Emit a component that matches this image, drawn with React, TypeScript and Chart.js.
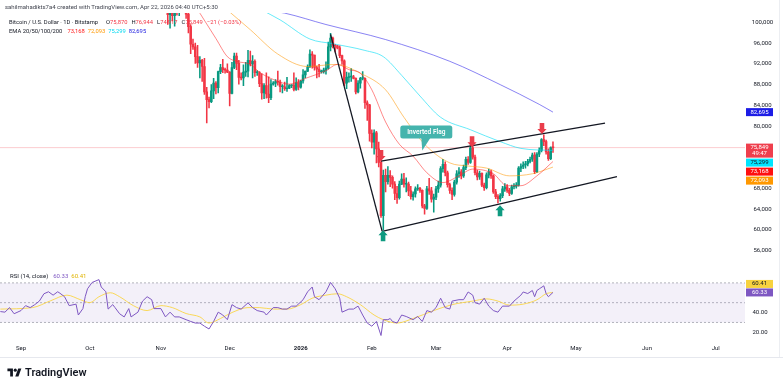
import React, { useEffect, useRef } from 'react';
import { Chart, registerables } from 'chart.js';

Chart.register(...registerables);

const FONT = 'Roboto, "Noto Sans", "DejaVu Sans", sans-serif';
Chart.defaults.font.family = FONT;
Chart.defaults.font.size = 6;
Chart.defaults.color = '#131722';

const UP = '#089981';
const DOWN = '#f23645';

// Day numbers are counted from 2025-09-01 (= day 0)
const X_MIN = -9.16;
const X_MAX = 315.74;
const CANDLE_FIRST_DAY = 61; // 2025-11-01, one daily candle per entry (values in thousands USD)

const opens = [
  // Nov
  109.6,110.1,110.6,106.5,101.5,103.9,101.3,103.4,102.3,104.7,106.0,103.0,101.6,99.2,95.8,95.3,93.4,92.2,92.7,91.5,86.6,85.1,84.7,86.8,88.3,87.4,90.5,91.3,90.9,90.8,
  // Dec
  90.4,86.3,91.3,93.5,92.1,89.4,89.3,90.4,90.6,92.7,92.0,92.5,90.3,90.3,88.2,86.4,87.8,86.2,85.5,88.1,88.3,88.6,88.5,87.6,87.6,87.2,87.3,87.8,87.9,87.1,88.4,
  // Jan
  87.5,88.7,89.9,90.6,91.4,93.9,93.7,91.3,91.0,90.5,90.5,90.8,91.2,95.3,97.0,95.6,95.5,95.1,93.6,92.6,88.3,89.4,89.5,89.5,89.2,86.6,88.3,89.2,89.2,84.5,84.1,
  // Feb
  78.6,76.9,78.7,75.6,73.0,62.7,70.5,69.3,70.5,70.1,68.8,67.0,66.2,68.8,69.8,68.8,68.8,67.5,66.4,66.9,67.9,68.0,67.6,64.6,64.1,67.9,67.5,65.9,
  // Mar
  66.3,67.9,68.6,71.8,72.6,71.0,68.7,67.6,66.8,69.2,70.8,71.2,70.4,72.0,73.6,73.0,75.8,74.0,71.0,70.2,70.9,68.6,68.1,70.6,71.2,70.4,67.3,66.4,66.0,66.6,67.9,
  // Apr
  68.3,67.6,67.0,68.3,68.4,68.6,71.9,72.2,72.5,72.7,73.2,73.6,74.4,71.2,74.6,75.3,77.4,77.0,75.0,73.7,75.87,
];
const highs = [
  110.6,111.2,110.8,107.3,104.5,104.2,104.0,103.5,105.0,106.6,107.3,105.3,104.0,99.6,96.8,96.0,95.6,93.4,92.9,93.1,87.5,85.6,88.0,89.2,88.6,90.6,91.9,92.9,91.2,92.0,
  90.5,92.3,94.1,94.1,92.7,90.3,91.8,92.3,94.6,94.5,93.6,92.8,90.7,90.5,90.1,88.2,90.3,89.5,89.0,88.6,89.0,90.6,88.9,88.0,88.5,89.4,88.0,88.0,90.3,89.3,89.0,
  88.9,90.9,90.6,91.8,94.7,94.4,93.7,91.6,91.9,90.8,91.2,92.4,96.2,97.9,97.2,95.8,95.6,95.5,93.7,92.8,90.4,90.3,91.1,89.8,89.3,88.8,89.4,90.5,89.3,84.9,84.2,
  79.3,79.3,79.0,76.9,73.4,71.5,71.7,72.2,71.4,70.4,69.3,68.4,69.4,70.8,70.9,70.0,69.2,68.4,67.3,68.3,68.7,68.2,67.7,64.9,68.4,69.9,68.2,66.9,
  68.4,69.4,72.2,73.6,73.1,71.3,69.0,68.1,69.6,71.4,72.0,71.6,72.5,74.0,74.1,76.2,76.4,74.4,71.5,71.3,71.0,69.0,71.0,71.7,71.5,70.6,67.8,66.8,67.0,68.4,68.9,
  68.7,68.0,68.6,68.9,69.1,72.2,72.7,73.1,73.2,73.6,74.0,74.8,74.9,74.9,75.8,77.6,78.3,77.3,75.6,76.0,76.944,
];
const lows = [
  109.4,109.5,105.3,99.6,98.9,100.3,99.3,101.4,101.3,104.3,102.5,100.8,98.0,94.0,94.8,92.1,91.3,89.3,88.6,86.1,80.6,83.5,84.5,85.3,86.2,86.4,90.1,90.3,90.2,90.3,
  83.9,86.2,91.1,90.9,88.1,88.9,87.8,89.6,89.5,91.6,89.3,89.6,89.8,87.6,85.2,85.3,85.4,84.5,85.1,87.9,87.6,87.9,86.6,86.4,86.9,86.7,87.2,87.4,86.8,86.9,87.0,
  87.3,88.3,89.3,90.5,91.3,91.2,90.8,89.3,89.5,90.2,90.2,90.0,91.0,94.5,95.1,94.3,94.9,93.2,91.9,87.8,87.2,88.5,88.6,89.1,86.2,86.4,87.3,88.9,83.4,81.1,77.1,
  75.8,74.6,72.9,72.1,62.4,60.0,67.3,68.8,68.3,68.0,65.8,65.1,65.9,68.7,68.2,67.3,66.6,65.9,65.7,66.3,67.6,67.2,64.2,63.0,63.9,66.8,65.3,63.4,
  65.8,67.2,68.2,71.1,70.4,68.2,67.0,65.8,66.5,68.8,70.1,69.8,70.1,71.6,72.6,72.8,73.6,70.6,69.6,69.7,68.3,67.6,67.9,70.0,69.9,67.0,66.0,65.2,65.5,66.2,67.4,
  67.2,66.6,66.8,67.9,68.0,68.4,71.2,71.8,71.9,72.3,72.9,73.2,70.8,71.0,74.1,75.0,76.2,74.6,73.4,73.5,74.917,
];
const closes = [
  110.1,110.6,106.5,101.5,103.9,101.3,103.4,102.3,104.7,106.0,103.0,101.6,99.2,95.8,95.3,93.4,92.2,92.7,91.5,86.6,85.1,84.7,86.8,88.3,87.4,90.5,91.3,90.9,90.8,90.4,
  86.3,91.3,93.5,92.1,89.4,89.3,90.4,90.6,92.7,92.0,92.5,90.3,90.3,88.2,86.4,87.8,86.2,85.5,88.1,88.3,88.6,88.5,87.6,87.6,87.2,87.3,87.8,87.9,87.1,88.4,87.5,
  88.7,89.9,90.6,91.4,93.9,93.7,91.3,91.0,90.5,90.5,90.8,91.2,95.3,97.0,95.6,95.5,95.1,93.6,92.6,88.3,89.4,89.5,89.5,89.2,86.6,88.3,89.2,89.2,84.5,84.1,78.6,
  76.9,78.7,75.6,73.0,62.7,70.5,69.3,70.5,70.1,68.8,67.0,66.2,68.8,69.8,68.8,68.8,67.5,66.4,66.9,67.9,68.0,67.6,64.6,64.1,67.9,67.5,65.9,66.3,
  67.9,68.6,71.8,72.6,71.0,68.7,67.6,66.8,69.2,70.8,71.2,70.4,72.0,73.6,73.0,75.8,74.0,71.0,70.2,70.9,68.6,68.1,70.6,71.2,70.4,67.3,66.4,66.0,66.6,67.9,68.3,
  67.6,67.0,68.3,68.4,68.6,71.9,72.2,72.5,72.7,73.2,73.6,74.4,71.2,74.6,75.3,77.4,77.0,75.0,73.7,75.87,75.849,
];

// EMA lines (read at sample days, thousands USD)
const ema20Days = [78, 85, 90, 94, 100, 104, 110, 117, 124, 133, 138, 143, 148, 153, 159, 165, 171, 177, 184, 191, 197, 206, 212, 218, 225, 232];
const ema20Vals = [101.8, 96.9, 93.4, 92.5, 91.9, 90.4, 89.0, 88.1, 89.2, 90.7, 91.9, 90.9, 90.2, 87.0, 80.8, 76.5, 74.2, 71.0, 69.1, 70.4, 71.7, 70.8, 68.5, 68.5, 70.4, 73.168];
const ema50Days = [90, 100, 112, 125, 137, 148, 159, 167, 176, 187, 195, 203, 213, 223, 232];
const ema50Vals = [102.4, 98.6, 93.9, 91.5, 91.9, 90.2, 87.0, 81.7, 76.5, 72.9, 72.3, 71.9, 70.4, 70.8, 72.093];
const ema100Days = [105, 113, 126, 136, 150, 158, 166, 174, 183, 196, 209, 218, 232];
const ema100Vals = [102.4, 100.5, 96.8, 95.9, 94.6, 93.4, 89.8, 85.8, 81.7, 79.3, 77.0, 75.7, 75.299];
const ema200Days = [104, 115, 133, 159, 187, 209, 226, 232];
const ema200Vals = [102.6, 101.8, 99.6, 96.7, 92.5, 88.0, 84.2, 82.695];

// RSI (14) and its moving average
const rsiDays = [-9,-7,-5,-3,0,2,4,6,8,10,12,14,16,17,19,21,24,25,27,28,29,31,34,35,37,38,40,41,43,45,47,48,51,53,55,57,58,61,63,65,67,69,72,74,76,78,80,82,84,86,88,90,92,94,96,99,101,103,106,107,110,112,114,116,118,120,123,125,127,128,130,133,135,137,139,140,143,145,147,149,151,153,155,157,158,160,161,162,164,166,168,171,173,175,177,179,181,183,185,187,188,191,193,195,197,198,200,202,204,206,208,210,213,215,218,219,221,223,224,225,226,228,229,230,232];
const rsiVals = [41,40.4,45,38.8,42,47,45,48,51.6,59,61,57.6,61,59.5,56,47,48.5,37.5,44,56,64,70.4,73.3,65.8,61,43.5,48,45,38.8,35.6,44,35.6,40.4,51.6,56,53,44,44,35.6,40.4,35.6,35.6,32.8,31,29.4,29.4,26.2,23.4,31,40.4,37.5,32.8,48,45,43.5,49.8,45,42,40.4,37.5,45,45,43.5,43.5,46.5,46.5,52.9,61,65.8,56,53,61,70.4,64,54.5,40.4,43.5,43.5,46.5,37.5,29.4,26.2,31,16.8,32.8,32.8,34,31,29.4,37.5,36,32.8,36,31,42,40.4,45,54.5,45,43.5,51.6,53,53,60.8,57.6,50,48.5,54.5,46.5,42,40.4,46.5,46.5,51.6,57.6,60.8,59.2,62.3,56,62.3,63.9,67,59.2,56,60.33];
const rsiMaDays = [-9,5,13,20,26,30,34,39,43,49,55,61,66,72,78,82,87,92,99,104,110,116,122,127,133,138,142,148,154,158,164,171,180,188,197,203,208,213,219,225,229,232];
const rsiMaVals = [43.5,45,52,57.6,52.9,50,56,60,56,47,42,47,45,39,35.6,29.4,34,40,45,45,43.5,43.5,48,54.5,57.6,59,56,48,37.5,32.8,29.4,34,42,48,51.6,53.8,51.6,47.5,48.5,52.9,59,60.41];
const RSI_BANDS = [70, 50, 30];

// Axis ticks
const priceTickValues = [56000, 60000, 64000, 68000, 80000, 84000, 88000, 92000, 96000, 100000];
const rsiTickValues = [20, 40];
const monthTickDays = [0, 30, 61, 91, 122, 153, 181, 212, 242, 273, 303];
const monthTickLabels = ['Sep', 'Oct', 'Nov', 'Dec', '2026', 'Feb', 'Mar', 'Apr', 'May', 'Jun', 'Jul'];

// Drawings (day, price in thousands)
const steepLineDays = [135, 157.5];
const steepLinePrices = [97.7, 59.7];
const upperLineDays = [157, 254.7];
const upperLinePrices = [73.25, 80.58];
const lowerLineDays = [157.5, 259.9];
const lowerLinePrices = [59.7, 70.24];
const markerDays = [157, 196.7, 227.2, 157.9, 208.9];
const markerPrices = [73.25, 75.9, 78.5, 59.9, 64.75];
const markerDirs = ['down', 'down', 'down', 'up', 'up'];
const calloutDay = 175;
const calloutPrice = 75.3;
const calloutText = 'Inverted Flag';
const countdownText = '49:47';

const fmt = (v: number) => Math.round(v).toLocaleString('en-US');
const last = closes.length - 1;

function linePts(days: number[], vals: number[]) {
  return days.map((d, i) => ({ x: d, y: vals[i] * 1000 }));
}

function drawArrow(ctx: CanvasRenderingContext2D, x: number, y: number, dir: string) {
  const s = dir === 'down' ? -1 : 1;
  ctx.fillStyle = dir === 'down' ? '#ea3d4b' : '#0e9a80';
  ctx.beginPath();
  ctx.moveTo(x, y);
  ctx.lineTo(x + 4.6, y + s * 5);
  ctx.lineTo(x + 2.3, y + s * 5);
  ctx.lineTo(x + 2.3, y + s * 11);
  ctx.lineTo(x - 2.3, y + s * 11);
  ctx.lineTo(x - 2.3, y + s * 5);
  ctx.lineTo(x - 4.6, y + s * 5);
  ctx.closePath();
  ctx.fill();
}

type Box = { y: number; lines: string[]; bg: string; fg: string; h: number };

function drawBoxes(ctx: CanvasRenderingContext2D, boxes: Box[], left: number, width: number) {
  ctx.save();
  ctx.font = `6px ${FONT}`;
  ctx.textAlign = 'center';
  ctx.textBaseline = 'middle';
  boxes.forEach((b) => {
    ctx.fillStyle = b.bg;
    ctx.fillRect(left, b.y, width, b.h);
    ctx.fillStyle = b.fg;
    b.lines.forEach((t, i) => ctx.fillText(t, left + width / 2, b.y + 3.9 + i * 6));
  });
  ctx.restore();
}

const priceDecor = {
  id: 'priceDecor',
  afterDatasetsDraw(chart: any) {
    const { ctx, scales } = chart;
    const xs = scales.x;
    const ys = scales.y;
    ctx.save();
    markerDays.forEach((d, i) => {
      drawArrow(ctx, xs.getPixelForValue(d), ys.getPixelForValue(markerPrices[i] * 1000), markerDirs[i]);
    });
    const cx = xs.getPixelForValue(calloutDay);
    const cy = ys.getPixelForValue(calloutPrice * 1000);
    const bx = cx - 22, bw = 52, by = cy - 25, bh = 13;
    ctx.fillStyle = '#45b4ad';
    ctx.beginPath();
    ctx.roundRect(bx, by, bw, bh, 2.5);
    ctx.fill();
    ctx.beginPath();
    ctx.moveTo(cx - 1, by + bh - 0.5);
    ctx.lineTo(cx + 8, by + bh - 0.5);
    ctx.lineTo(cx, cy);
    ctx.closePath();
    ctx.fill();
    ctx.fillStyle = '#ffffff';
    ctx.font = `600 6.5px ${FONT}`;
    ctx.textAlign = 'center';
    ctx.textBaseline = 'middle';
    ctx.fillText(calloutText, bx + bw / 2, by + bh / 2 + 0.3);
    ctx.restore();
  },
  afterDraw(chart: any) {
    const { ctx, scales, chartArea } = chart;
    const ys = scales.y;
    const items = [
      { v: ema200Vals[ema200Vals.length - 1], lines: [fmt(ema200Vals[ema200Vals.length - 1] * 1000)], bg: '#1c1ce6', fg: '#ffffff', h: 8 },
      { v: closes[last], lines: [fmt(closes[last] * 1000), countdownText], bg: '#ef3f4d', fg: '#ffffff', h: 14 },
      { v: ema100Vals[ema100Vals.length - 1], lines: [fmt(ema100Vals[ema100Vals.length - 1] * 1000)], bg: '#00e5ff', fg: '#131722', h: 8 },
      { v: ema20Vals[ema20Vals.length - 1], lines: [fmt(ema20Vals[ema20Vals.length - 1] * 1000)], bg: '#ff1010', fg: '#ffffff', h: 8 },
      { v: ema50Vals[ema50Vals.length - 1], lines: [fmt(ema50Vals[ema50Vals.length - 1] * 1000)], bg: '#ff9800', fg: '#ffffff', h: 8 },
    ];
    let prevBottom = -Infinity;
    const boxes: Box[] = [];
    items.forEach((it) => {
      let top = ys.getPixelForValue(it.v * 1000) - 4;
      if (top < prevBottom + 1) top = prevBottom + 1;
      boxes.push({ y: top, lines: it.lines, bg: it.bg, fg: it.fg, h: it.h });
      prevBottom = top + it.h;
    });
    drawBoxes(ctx, boxes, chartArea.right + 1, 27);
  },
};

const rsiDecor = {
  id: 'rsiDecor',
  afterDraw(chart: any) {
    const { ctx, scales, chartArea } = chart;
    const ys = scales.y;
    const rv = rsiVals[rsiVals.length - 1];
    const mv = rsiMaVals[rsiMaVals.length - 1];
    const py = ys.getPixelForValue(rv) - 4;
    const boxes: Box[] = [
      { y: py - 8.5, lines: [mv.toFixed(2)], bg: '#f7d23e', fg: '#131722', h: 8 },
      { y: py, lines: [rv.toFixed(2)], bg: '#7e57c2', fg: '#ffffff', h: 8 },
    ];
    drawBoxes(ctx, boxes, chartArea.right + 1, 27);
  },
};

function priceConfig(): any {
  const days = closes.map((_, i) => CANDLE_FIRST_DAY + i);
  const colors = closes.map((c, i) => (c >= opens[i] ? UP : DOWN));
  const trend = (d: number[], p: number[]) => ({
    type: 'line', data: linePts(d, p), borderColor: '#131722', borderWidth: 1.3,
    pointRadius: 0, order: 0, clip: 2,
  });
  const ema = (d: number[], v: number[], color: string) => ({
    type: 'line', data: linePts(d, v), borderColor: color, borderWidth: 1,
    pointRadius: 0, cubicInterpolationMode: 'monotone', order: 1,
  });
  return {
    type: 'bar',
    data: {
      datasets: [
        trend(steepLineDays, steepLinePrices),
        trend(upperLineDays, upperLinePrices),
        trend(lowerLineDays, lowerLinePrices),
        ema(ema20Days, ema20Vals, 'rgba(255,40,40,0.55)'),
        ema(ema50Days, ema50Vals, 'rgba(255,152,0,0.55)'),
        ema(ema100Days, ema100Vals, 'rgba(0,220,245,0.6)'),
        ema(ema200Days, ema200Vals, 'rgba(60,50,235,0.6)'),
        {
          type: 'bar',
          data: days.map((d, i) => ({ x: d, y: [opens[i] * 1000, closes[i] * 1000] })),
          backgroundColor: colors, barThickness: 1.9, grouped: false, minBarLength: 0.8, order: 2,
        },
        {
          type: 'bar',
          data: days.map((d, i) => ({ x: d, y: [lows[i] * 1000, highs[i] * 1000] })),
          backgroundColor: colors, barThickness: 0.9, grouped: false, order: 3,
        },
        {
          type: 'line',
          data: [{ x: X_MIN, y: closes[last] * 1000 }, { x: X_MAX, y: closes[last] * 1000 }],
          borderColor: 'rgba(242,54,69,0.25)', borderWidth: 1, pointRadius: 0, order: 4,
        },
      ],
    },
    options: {
      responsive: false,
      animation: false,
      events: [],
      layout: { padding: { top: 13, bottom: 4, left: 0, right: 0 }, autoPadding: false },
      plugins: { legend: { display: false }, tooltip: { enabled: false } },
      scales: {
        x: { type: 'linear', min: X_MIN, max: X_MAX, display: false, offset: false },
        y: {
          type: 'linear', position: 'right', min: 55012, max: 101824,
          grid: { display: false, drawTicks: false }, border: { display: false },
          afterBuildTicks: (s: any) => { s.ticks = priceTickValues.map((v) => ({ value: v })); },
          afterFit: (s: any) => { s.width = 38; },
          ticks: {
            padding: 6.8, crossAlign: 'center', color: '#131722', font: { size: 6 },
            callback: (v: any) => Number(v).toLocaleString('en-US'),
          },
        },
      },
    },
    plugins: [priceDecor],
  };
}

function rsiConfig(): any {
  const band = (v: number, fill: boolean) => ({
    type: 'line',
    data: [{ x: X_MIN, y: v }, { x: X_MAX, y: v }],
    borderColor: 'rgba(120,123,134,0.55)', borderWidth: 1, borderDash: [2, 2], pointRadius: 0,
    fill: fill ? { value: RSI_BANDS[2] } : false,
    backgroundColor: 'rgba(126,87,194,0.09)', order: 5,
  });
  return {
    type: 'line',
    data: {
      datasets: [
        {
          data: rsiDays.map((d, i) => ({ x: d, y: rsiVals[i] })),
          borderColor: '#7e57c2', borderWidth: 1, pointRadius: 0, order: 0,
        },
        {
          data: rsiMaDays.map((d, i) => ({ x: d, y: rsiMaVals[i] })),
          borderColor: 'rgba(250,212,60,0.85)', borderWidth: 1, pointRadius: 0,
          cubicInterpolationMode: 'monotone', order: 1,
        },
        band(RSI_BANDS[0], true),
        band(RSI_BANDS[1], false),
        band(RSI_BANDS[2], false),
      ],
    },
    options: {
      responsive: false,
      animation: false,
      events: [],
      layout: { padding: { top: 6, bottom: 0, left: 0, right: 0 }, autoPadding: false },
      plugins: { legend: { display: false }, tooltip: { enabled: false } },
      scales: {
        x: {
          type: 'linear', min: X_MIN, max: X_MAX, offset: false, position: 'bottom',
          grid: { display: false, drawTicks: false }, border: { display: false },
          afterBuildTicks: (s: any) => { s.ticks = monthTickDays.map((v) => ({ value: v })); },
          afterFit: (s: any) => { s.height = 20; },
          ticks: {
            autoSkip: false, maxRotation: 0, padding: 3, color: '#131722',
            font: (c: any) => ({ size: 6, weight: c.tick && c.tick.value === 122 ? 'bold' : 'normal' }),
            callback: (v: any) => {
              const i = monthTickDays.indexOf(Number(v));
              return i >= 0 ? monthTickLabels[i] : '';
            },
          },
        },
        y: {
          type: 'linear', position: 'right', min: 10.24, max: 79.88,
          grid: { display: false, drawTicks: false }, border: { display: false },
          afterBuildTicks: (s: any) => { s.ticks = rsiTickValues.map((v) => ({ value: v })); },
          afterFit: (s: any) => { s.width = 38; },
          ticks: {
            padding: 7.5, crossAlign: 'center', color: '#131722', font: { size: 6 },
            callback: (v: any) => Number(v).toFixed(2),
          },
        },
      },
    },
    plugins: [rsiDecor],
  };
}

const row = (left: number, top: number, size: number, children: any) => (
  <div style={{
    position: 'absolute', left, top, fontSize: size, lineHeight: 1, color: '#131722',
    whiteSpace: 'nowrap', display: 'flex', alignItems: 'baseline',
  }}>{children}</div>
);

export default function App() {
  const priceRef = useRef<HTMLCanvasElement>(null);
  const rsiRef = useRef<HTMLCanvasElement>(null);

  useEffect(() => {
    const c1 = new Chart(priceRef.current as HTMLCanvasElement, priceConfig());
    const c2 = new Chart(rsiRef.current as HTMLCanvasElement, rsiConfig());
    return () => { c1.destroy(); c2.destroy(); };
  }, []);

  const o = opens[last] * 1000, h = highs[last] * 1000, l = lows[last] * 1000, c = closes[last] * 1000;
  const chg = Math.round(c - o);
  const pct = ((c - o) / o) * 100;
  const red = '#f23645';
  const gap = (w: number) => <span style={{ display: 'inline-block', width: w }} />;

  return (
    <div style={{ position: 'fixed', left: 0, top: 0, width: 783, height: 388, background: '#ffffff', overflow: 'hidden', fontFamily: FONT }}>
      <canvas ref={priceRef} width={783} height={266} style={{ position: 'absolute', left: 0, top: 0 }} />
      <canvas ref={rsiRef} width={783} height={100} style={{ position: 'absolute', left: 0, top: 262 }} />

      {row(5, 4, 6, <span style={{ color: '#434651' }}>sahilmahadikts7a4 created with TradingView.com, Apr 22, 2026 04:40 UTC+5:30</span>)}
      {row(9, 20, 5.8, <>
        <span>Bitcoin / U.S. Dollar · 1D · Bitstamp</span>{gap(8)}
        <span>O<span style={{ color: red }}>{fmt(o)}</span></span>{gap(4)}
        <span>H<span style={{ color: red }}>{fmt(h)}</span></span>{gap(4)}
        <span>L<span style={{ color: red }}>{fmt(l)}</span></span>{gap(4)}
        <span>C<span style={{ color: red }}>{fmt(c)}</span></span>{gap(4)}
        <span style={{ color: red }}>{`${chg < 0 ? '−' : '+'}${Math.abs(chg)} (${pct < 0 ? '−' : '+'}${Math.abs(pct).toFixed(2)}%)`}</span>
      </>)}
      {row(9, 29, 5.8, <>
        <span>EMA 20/50/100/200</span>{gap(5)}
        <span style={{ color: '#ff1a1a' }}>{fmt(ema20Vals[ema20Vals.length - 1] * 1000)}</span>{gap(3)}
        <span style={{ color: '#ff9800' }}>{fmt(ema50Vals[ema50Vals.length - 1] * 1000)}</span>{gap(3)}
        <span style={{ color: '#00d8f0' }}>{fmt(ema100Vals[ema100Vals.length - 1] * 1000)}</span>{gap(3)}
        <span style={{ color: '#2020e0' }}>{fmt(ema200Vals[ema200Vals.length - 1] * 1000)}</span>
      </>)}

      {row(10, 273, 6, <>
        <span>RSI (14, close)</span>{gap(5)}
        <span style={{ color: '#7e57c2' }}>{rsiVals[rsiVals.length - 1].toFixed(2)}</span>{gap(3)}
        <span style={{ color: '#e0b400' }}>{rsiMaVals[rsiMaVals.length - 1].toFixed(2)}</span>
      </>)}

      <div style={{ position: 'absolute', left: 0, top: 357, width: 783, height: 1, background: '#e6e8ee' }} />
      <div style={{ position: 'absolute', left: 779, top: 0, width: 1, height: 357, background: '#eceef2' }} />

      <svg style={{ position: 'absolute', left: 7, top: 367 }} width="15" height="11" viewBox="0 0 36 28">
        <path d="M14 24H7V11H0V4h14v20z" fill="#131722" />
        <circle cx="20" cy="8" r="4" fill="#131722" />
        <path d="M28 24h-8l7.5-20h8L28 24z" fill="#131722" />
      </svg>
      <div style={{ position: 'absolute', left: 25, top: 366.5, fontSize: 11, lineHeight: 1, fontWeight: 600, color: '#131722', whiteSpace: 'nowrap' }}>TradingView</div>
    </div>
  );
}
